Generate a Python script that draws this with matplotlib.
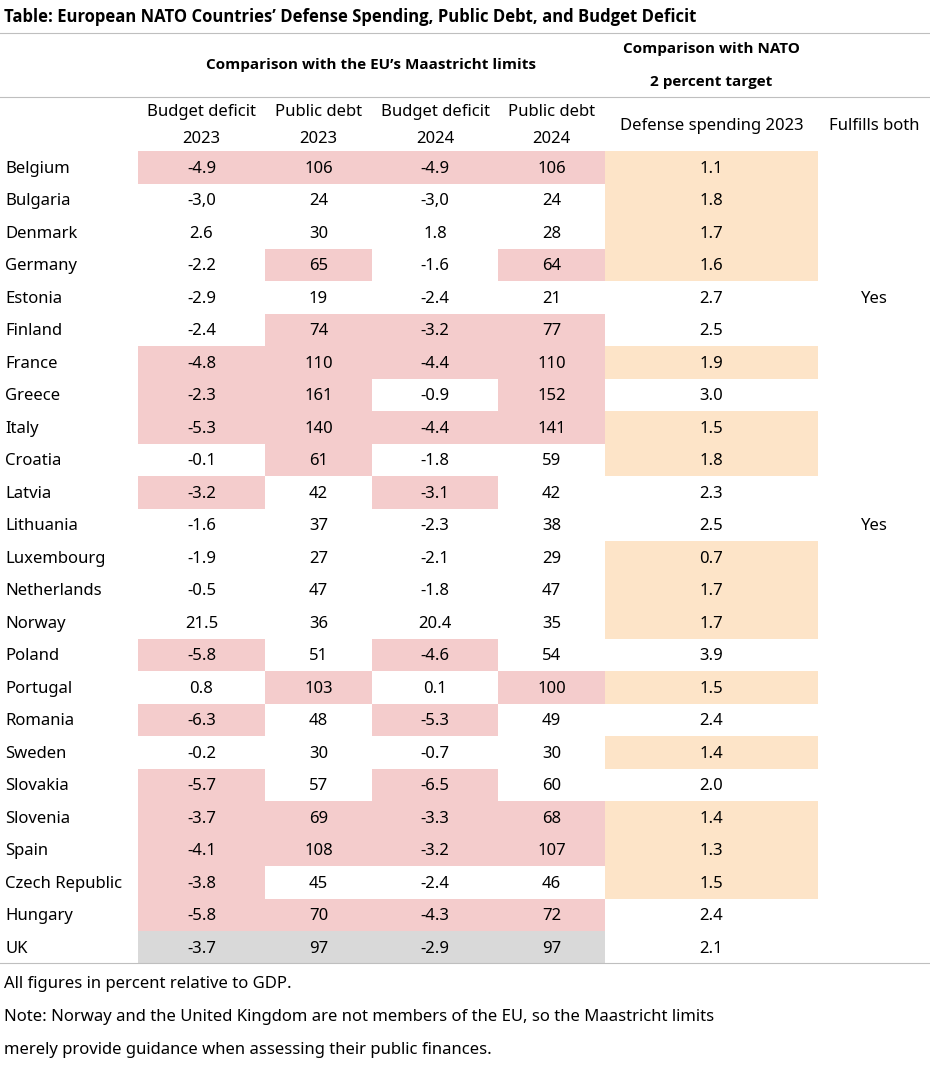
import matplotlib
matplotlib.use('Agg')
import matplotlib.pyplot as plt
from matplotlib.patches import Rectangle

plt.rcParams['font.family'] = ['Noto Sans', 'DejaVu Sans']
BOLD = ['Open Sans', 'Lato', 'DejaVu Sans']

countries = ["Belgium", "Bulgaria", "Denmark", "Germany", "Estonia", "Finland", "France",
             "Greece", "Italy", "Croatia", "Latvia", "Lithuania", "Luxembourg", "Netherlands",
             "Norway", "Poland", "Portugal", "Romania", "Sweden", "Slovakia", "Slovenia",
             "Spain", "Czech Republic", "Hungary", "UK"]
deficit_2023 = ["-4.9", "-3,0", "2.6", "-2.2", "-2.9", "-2.4", "-4.8", "-2.3", "-5.3", "-0.1",
                "-3.2", "-1.6", "-1.9", "-0.5", "21.5", "-5.8", "0.8", "-6.3", "-0.2", "-5.7",
                "-3.7", "-4.1", "-3.8", "-5.8", "-3.7"]
debt_2023 = ["106", "24", "30", "65", "19", "74", "110", "161", "140", "61", "42", "37", "27",
             "47", "36", "51", "103", "48", "30", "57", "69", "108", "45", "70", "97"]
deficit_2024 = ["-4.9", "-3,0", "1.8", "-1.6", "-2.4", "-3.2", "-4.4", "-0.9", "-4.4", "-1.8",
                "-3.1", "-2.3", "-2.1", "-1.8", "20.4", "-4.6", "0.1", "-5.3", "-0.7", "-6.5",
                "-3.3", "-3.2", "-2.4", "-4.3", "-2.9"]
debt_2024 = ["106", "24", "28", "64", "21", "77", "110", "152", "141", "59", "42", "38", "29",
             "47", "35", "54", "100", "49", "30", "60", "68", "107", "46", "72", "97"]
defense_2023 = ["1.1", "1.8", "1.7", "1.6", "2.7", "2.5", "1.9", "3.0", "1.5", "1.8", "2.3",
                "2.5", "0.7", "1.7", "1.7", "3.9", "1.5", "2.4", "1.4", "2.0", "1.4", "1.3",
                "1.5", "2.4", "2.1"]
fulfills_both = ["", "", "", "", "Yes", "", "", "", "", "", "", "Yes", "", "", "", "", "", "",
                 "", "", "", "", "", "", ""]
# cell shading: p = over Maastricht limit, g = non-EU, o = under NATO target
maastricht_flags = ["pppp", "----", "----", "-p-p", "----", "-ppp", "pppp", "pp-p", "pppp",
                    "-p--", "p-p-", "----", "----", "----", "----", "p-p-", "-p-p", "p-p-",
                    "----", "p-p-", "pppp", "pppp", "p---", "pppp", "gggg"]
defense_flags = ["o", "o", "o", "o", "-", "-", "o", "-", "o", "o", "-", "-", "o", "o", "o",
                 "-", "o", "-", "o", "-", "o", "o", "o", "-", "-"]

PINK, ORANGE, GREY = "#f4cccc", "#fde4c8", "#d9d9d9"
W, H = 930, 1065
fig = plt.figure(figsize=(W / 100, H / 100), dpi=100)
ax = fig.add_axes([0, 0, 1, 1])
ax.set_xlim(0, W)
ax.set_ylim(H, 0)
ax.axis('off')

edges = [0, 138, 265, 372, 498, 605, 818, 930]
centers = [(a + b) / 2 for a, b in zip(edges[:-1], edges[1:])]
top, rh = 151, 32.5
fs = 12
colmap = {"p": PINK, "g": GREY, "o": ORANGE}

ax.text(4, 17, "Table: European NATO Countries\u2019 Defense Spending, Public Debt, and Budget Deficit",
        fontsize=12, fontweight='bold', family=BOLD, va='center')
for y in [33, 97, 963]:
    ax.plot([0, W], [y, y], color='#bfbfbf', lw=0.8)
ax.text(371, 65, "Comparison with the EU\u2019s Maastricht limits", fontsize=11, fontweight='bold',
        family=BOLD, ha='center', va='center')
ax.text(centers[5], 49, "Comparison with NATO", fontsize=11, fontweight='bold', family=BOLD,
        ha='center', va='center')
ax.text(centers[5], 82, "2 percent target", fontsize=11, fontweight='bold', family=BOLD,
        ha='center', va='center')
subs = [("Budget deficit", "2023"), ("Public debt", "2023"), ("Budget deficit", "2024"), ("Public debt", "2024")]
for i, (a, b) in enumerate(subs):
    ax.text(centers[i + 1], 112, a, fontsize=fs, ha='center', va='center')
    ax.text(centers[i + 1], 139, b, fontsize=fs, ha='center', va='center')
ax.text(centers[5], 126, "Defense spending 2023", fontsize=fs, ha='center', va='center')
ax.text(centers[6], 126, "Fulfills both", fontsize=fs, ha='center', va='center')

for r, name in enumerate(countries):
    y0 = top + r * rh
    yc = y0 + rh / 2 + 1.5
    vals = [deficit_2023[r], debt_2023[r], deficit_2024[r], debt_2024[r]]
    for j in range(4):
        f = maastricht_flags[r][j]
        if f != "-":
            ax.add_patch(Rectangle((edges[j + 1], y0), edges[j + 2] - edges[j + 1], rh,
                                   color=colmap[f], lw=0))
        ax.text(centers[j + 1], yc, vals[j], fontsize=fs, ha='center', va='center')
    if defense_flags[r] == "o":
        ax.add_patch(Rectangle((edges[5], y0), edges[6] - edges[5], rh, color=ORANGE, lw=0))
    ax.text(5, yc, name, fontsize=fs, va='center')
    ax.text(centers[5], yc, defense_2023[r], fontsize=fs, ha='center', va='center')
    ax.text(centers[6], yc, fulfills_both[r], fontsize=fs, ha='center', va='center')

notes = ["All figures in percent relative to GDP.",
         "Note: Norway and the United Kingdom are not members of the EU, so the Maastricht limits",
         "merely provide guidance when assessing their public finances."]
for k, t in enumerate(notes):
    ax.text(4, 984 + k * 33, t, fontsize=fs, va='center')

fig.savefig("out.png", dpi=100)
